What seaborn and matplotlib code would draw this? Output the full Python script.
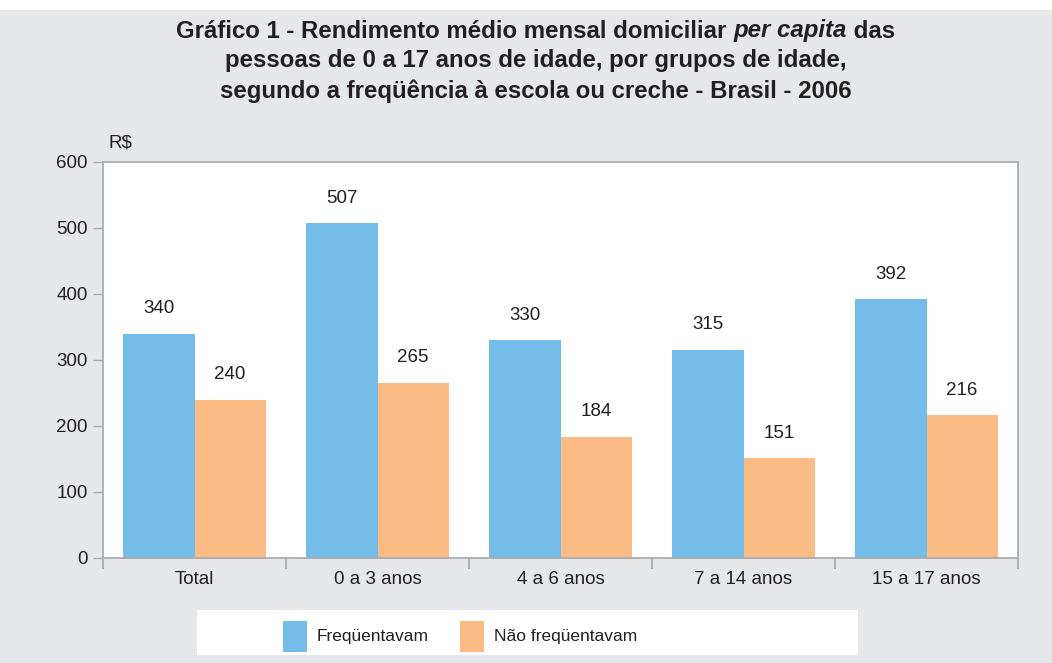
import pandas as pd
import matplotlib.pyplot as plt
import seaborn as sns
from matplotlib.patches import Rectangle
from matplotlib.ticker import FixedLocator

grupos = ['Total', '0 a 3 anos', '4 a 6 anos', '7 a 14 anos', '15 a 17 anos']
frequentavam = [340, 507, 330, 315, 392]
nao_frequentavam = [240, 265, 184, 151, 216]
series = ['Freqüentavam', 'Não freqüentavam']
yticks = [0, 100, 200, 300, 400, 500, 600]

blue = '#74bde8'
orange = '#fabb85'
bg = '#e6e7e9'
spine = '#a9abae'
txt = '#231f20'
fam = ['Liberation Sans', 'DejaVu Sans']
fs = 13.5

df = pd.DataFrame({
    'grupo': grupos * 2,
    'valor': frequentavam + nao_frequentavam,
    'situacao': [series[0]] * len(grupos) + [series[1]] * len(grupos),
})

sns.set_style("white")
plt.rcParams['font.family'] = fam

fig = plt.figure(figsize=(10.52, 6.63), dpi=100, facecolor=bg)
fig.patches.append(Rectangle((0, 1 - 10 / 663), 1, 10 / 663, transform=fig.transFigure,
                             facecolor='white', edgecolor='none', zorder=0))

ax = fig.add_axes([103 / 1052, 1 - 558 / 663, 915 / 1052, 396 / 663])
sns.barplot(data=df, x='grupo', y='valor', hue='situacao', palette=[blue, orange],
            width=0.776, saturation=1, ax=ax, legend=False, errorbar=None)
for b in ax.patches:
    b.set_edgecolor('none')
for c in ax.containers:
    ax.bar_label(c, padding=12, fontsize=fs, color=txt)

ax.set_facecolor('white')
ax.set_xlim(-0.5, len(grupos) - 0.5)
ax.set_ylim(0, 600)
ax.set_yticks(yticks)
ax.set_xlabel('')
ax.set_ylabel('')
for s in ax.spines.values():
    s.set_visible(True)
    s.set_color(spine)
    s.set_linewidth(1.3)
ax.tick_params(axis='y', direction='out', length=7, width=1, color=spine,
               labelsize=fs, labelcolor=txt, pad=4, left=True)
ax.tick_params(axis='x', which='major', length=0, labelsize=fs, labelcolor=txt, pad=9)
ax.xaxis.set_minor_locator(FixedLocator([i - 0.5 for i in range(len(grupos) + 1)]))
ax.tick_params(axis='x', which='minor', direction='out', length=8, width=1.3,
               color=spine, bottom=True)
fig.text(108 / 1052, 1 - 143 / 663, 'R$', fontsize=fs, color=txt, va='center', ha='left')

# title with italic "per capita"
fig.canvas.draw()
r = fig.canvas.get_renderer()
tsize = 17.3
parts = [('Gráfico 1 - Rendimento médio mensal domiciliar ', 'normal'),
         ('per capita', 'italic'), (' das', 'normal')]
objs = []
for s, st in parts:
    t = fig.text(0, 1 - 31 / 663, s, fontsize=tsize, fontweight='bold', style=st,
                 color=txt, va='center', ha='left')
    objs.append(t)
widths = [t.get_window_extent(r).width for t in objs]
x0 = 535.5 - sum(widths) / 2
for t, w in zip(objs, widths):
    t.set_x(x0 / 1052)
    x0 += w
fig.text(535.5 / 1052, 1 - 61 / 663, 'pessoas de 0 a 17 anos de idade, por grupos de idade,',
         fontsize=tsize, fontweight='bold', color=txt, ha='center', va='center')
fig.text(535.5 / 1052, 1 - 91 / 663, 'segundo a freqüência à escola ou creche - Brasil - 2006',
         fontsize=tsize, fontweight='bold', color=txt, ha='center', va='center')

# legend box
fig.patches.append(Rectangle((197 / 1052, 1 - 655 / 663), 661 / 1052, 45 / 663,
                             transform=fig.transFigure, facecolor='white',
                             edgecolor='none', zorder=1))
for x, col, lab in [(283, blue, series[0]), (460, orange, series[1])]:
    fig.patches.append(Rectangle((x / 1052, 1 - 652 / 663), 24 / 1052, 31 / 663,
                                 transform=fig.transFigure, facecolor=col,
                                 edgecolor='none', zorder=2))
    fig.text((x + 34) / 1052, 1 - 636 / 663, lab, fontsize=12.5, color=txt,
             ha='left', va='center', zorder=3)

plt.savefig('out.png', dpi=100, facecolor=bg)
